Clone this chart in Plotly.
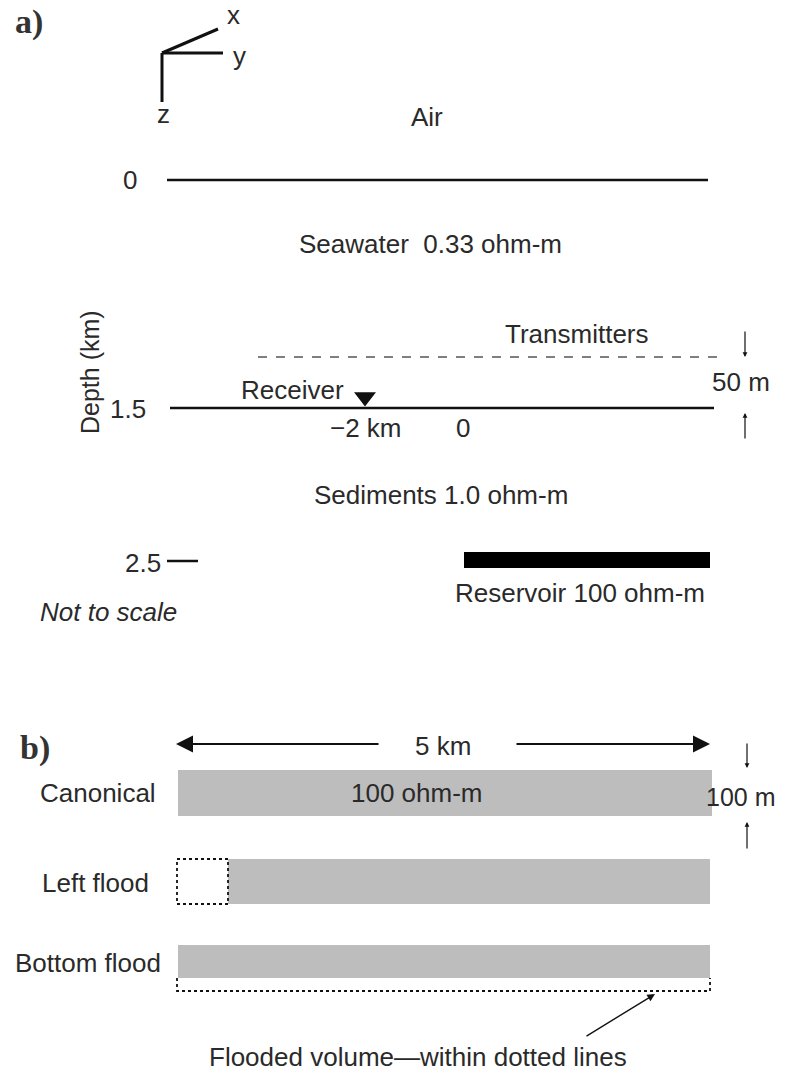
import plotly.graph_objects as go

# ---- data (model description) ----
layer_names = ["Air", "Seawater", "Sediments", "Reservoir"]
layer_resistivity = ["", "0.33 ohm-m", "1.0 ohm-m", "100 ohm-m"]
depth_tick_labels = ["0", "1.5", "2.5"]
offset_labels = ["\u22122 km", "0"]
axis_labels = ["x", "y", "z"]
scenario_names = ["Canonical", "Left flood", "Bottom flood"]
reservoir_length = "5 km"
reservoir_thickness = "100 m"
tx_height = "50 m"

FONT = "Liberation Sans"
FS = 26
BLACK = "#111111"
GRAY = "#bdbdbd"

fig = go.Figure()
shapes = []
ann = []


def text(x, y, s, size=FS, **kw):
    d = dict(x=x, y=y, text=s, showarrow=False, xref="x", yref="y",
             font=dict(family=kw.pop("family", FONT), size=size, color=kw.pop("color", "#2a2a2a")))
    d.update(kw)
    ann.append(d)


def line(x0, y0, x1, y1, w=2.5, color=BLACK, dash=None):
    ln = dict(color=color, width=w)
    if dash:
        ln["dash"] = dash
    shapes.append(dict(type="line", x0=x0, y0=y0, x1=x1, y1=y1, xref="x", yref="y", line=ln))


def arrow(x0, y0, x1, y1, head=2, size=1.0, w=1.5):
    ann.append(dict(x=x1, y=y1, ax=x0, ay=y0, xref="x", yref="y", axref="x", ayref="y",
                    text="", showarrow=True, arrowhead=head, arrowsize=size,
                    arrowwidth=w, arrowcolor=BLACK))


# ---------------- panel a ----------------
text(29, 22, "<b>a)</b>", size=34, family="Liberation Serif", color="#333333")
# coordinate icon
line(162, 53, 218, 29, w=3)
line(162, 53, 223, 53, w=3)
line(162, 53, 162, 102, w=3)
text(233, 15, axis_labels[0])
text(239, 56, axis_labels[1])
text(163, 114, axis_labels[2])

text(427, 117, layer_names[0])
text(130, 180, depth_tick_labels[0])
line(167, 180, 708, 180)
text(430, 244, layer_names[1] + "  " + layer_resistivity[1])

# transmitters
text(577, 334, "Transmitters")
line(258, 357, 722, 357, w=1.5, color="#555555", dash="dash")
arrow(745, 330, 745, 357, head=2, size=0.8, w=1.2)
arrow(745, 440, 745, 413, head=2, size=0.8, w=1.2)
text(741, 382, tx_height)

# seafloor / receiver
line(170, 408, 714, 408)
text(128, 409, depth_tick_labels[1])
text(90, 372, "Depth (km)", textangle=-90, size=25)
text(292, 390, "Receiver")
fig.add_trace(go.Scatter(x=[365], y=[397], mode="markers",
                         marker=dict(symbol="triangle-down", size=19, color=BLACK),
                         hoverinfo="skip", showlegend=False))
text(366, 428, offset_labels[0])
text(463, 428, offset_labels[1])

text(441, 495, layer_names[2] + " " + layer_resistivity[2])

# reservoir
text(143, 563, depth_tick_labels[2])
line(167, 561, 198, 561)
shapes.append(dict(type="rect", x0=464, y0=552, x1=710, y1=568, xref="x", yref="y",
                   fillcolor="black", line=dict(width=0)))
text(580, 593, layer_names[3] + " " + layer_resistivity[3])
text(108, 612, "<i>Not to scale</i>")

# ---------------- panel b ----------------
text(35, 748, "<b>b)</b>", size=34, family="Liberation Serif", color="#333333")
arrow(380, 744, 176, 744, head=2, size=1.7, w=2)
arrow(515, 744, 710, 744, head=2, size=1.7, w=2)
text(443, 746, reservoir_length)

# canonical
shapes.append(dict(type="rect", x0=178, y0=770, x1=712, y1=816, xref="x", yref="y",
                   fillcolor=GRAY, line=dict(width=0)))
text(98, 793, scenario_names[0])
text(417, 793, layer_resistivity[3])
arrow(747, 742, 747, 768, head=2, size=0.8, w=1.2)
arrow(747, 850, 747, 822, head=2, size=0.8, w=1.2)
text(740, 797, reservoir_thickness, size=25)

# left flood
shapes.append(dict(type="rect", x0=228, y0=859, x1=710, y1=904, xref="x", yref="y",
                   fillcolor=GRAY, line=dict(width=0)))
shapes.append(dict(type="rect", x0=177, y0=859, x1=228, y1=904, xref="x", yref="y",
                   fillcolor="rgba(0,0,0,0)", line=dict(color=BLACK, width=1.8, dash="dot")))
text(95, 883, scenario_names[1])

# bottom flood
shapes.append(dict(type="rect", x0=178, y0=945, x1=710, y1=978, xref="x", yref="y",
                   fillcolor=GRAY, line=dict(width=0)))
shapes.append(dict(type="path", path="M 177 978 L 177 991 L 710 991 L 710 978",
                   xref="x", yref="y", line=dict(color=BLACK, width=1.8, dash="dot")))
text(88, 963, scenario_names[2])
arrow(585, 1037, 655, 994, head=2, size=1.1, w=1.4)
text(418, 1057, "Flooded volume\u2014within dotted lines")

fig.update_layout(
    width=795, height=1073, margin=dict(l=0, r=0, t=0, b=0),
    plot_bgcolor="white", paper_bgcolor="white",
    xaxis=dict(range=[0, 795], visible=False, fixedrange=True),
    yaxis=dict(range=[1073, 0], visible=False, fixedrange=True),
    shapes=shapes, annotations=ann, showlegend=False,
)
fig.write_html("out.html", post_script="document.body.style.margin='0px';",
               config={"displayModeBar": False})
